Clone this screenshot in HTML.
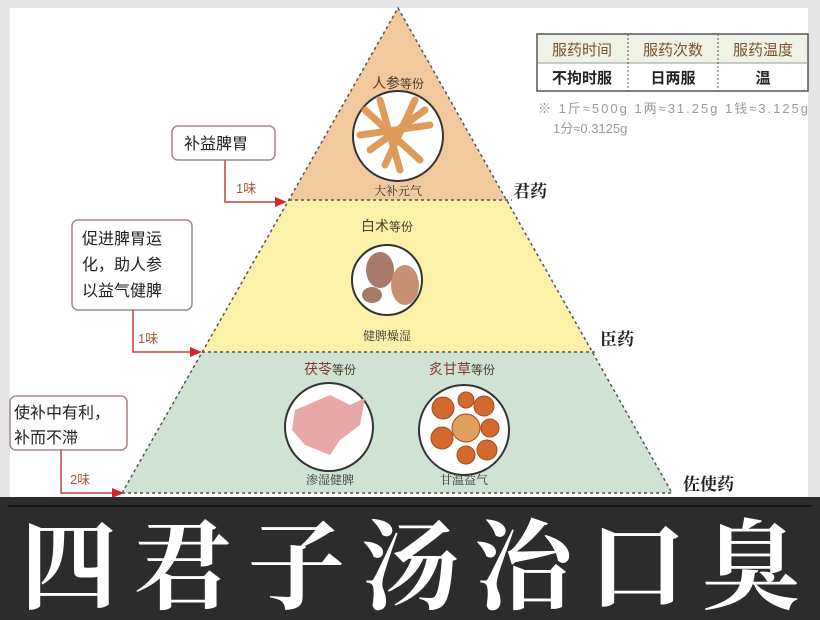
<!DOCTYPE html>
<html><head><meta charset="utf-8"><style>
html,body{margin:0;padding:0;width:820px;height:620px;overflow:hidden;background:#e6e6e6;font-family:"Liberation Sans","Noto Sans CJK SC",sans-serif}
</style></head><body>
<svg width="820" height="620" xmlns="http://www.w3.org/2000/svg" style="position:absolute;left:0;top:0">
<rect x="0" y="0" width="820" height="620" fill="#e6e6e6"/>
<rect x="10" y="8" width="798" height="490" fill="#fff"/>
<!-- tiers -->
<polygon points="398,8 506,200 289,200" fill="#f2c99d"/>
<polygon points="289,200 506,200 592,352 202,352" fill="#fbf1a9"/>
<polygon points="202,352 592,352 672,493 122,493" fill="#cfe2d3"/>
<g stroke="#555" stroke-width="1.5" stroke-dasharray="3,3" fill="none">
<polyline points="122,493 398,8 672,493 122,493"/>
<line x1="289" y1="200" x2="512" y2="200"/>
<line x1="202" y1="352" x2="596" y2="352"/>
</g>
<!-- circles -->
<g stroke="#333" stroke-width="2" fill="#fff">
<circle cx="398" cy="136" r="45"/>
<circle cx="387" cy="280" r="35"/>
<circle cx="329" cy="427" r="44"/>
<circle cx="464" cy="430" r="45"/>
</g>
<!-- ginseng -->
<g stroke="#d98b40" stroke-width="7" stroke-linecap="round" opacity="0.85">
<line x1="365" y1="110" x2="420" y2="160"/><line x1="380" y1="100" x2="400" y2="170"/>
<line x1="415" y1="100" x2="385" y2="165"/><line x1="360" y1="135" x2="430" y2="125"/>
<line x1="370" y1="150" x2="425" y2="110"/>
</g>
<!-- baizhu -->
<g fill="#a87a6a"><ellipse cx="380" cy="270" rx="14" ry="18"/><ellipse cx="405" cy="285" rx="14" ry="20" fill="#c89070"/><ellipse cx="372" cy="295" rx="10" ry="8"/></g>
<!-- fuling -->
<path d="M295,410 L330,395 L350,405 L365,398 L360,425 L340,440 L330,455 L305,445 L292,430Z" fill="#e8a8a8"/>
<!-- gancao slices -->
<g fill="#d4692f" stroke="#a34a1e" stroke-width="1">
<circle cx="443" cy="408" r="11"/><circle cx="466" cy="400" r="8"/><circle cx="484" cy="406" r="10"/>
<circle cx="466" cy="428" r="14" fill="#e0a060"/><circle cx="490" cy="428" r="9"/>
<circle cx="442" cy="438" r="11"/><circle cx="466" cy="455" r="9"/><circle cx="487" cy="450" r="10"/>
</g>
<!-- tier labels -->
<g font-family="'Liberation Serif','Noto Serif CJK SC',serif" font-weight="bold" font-size="17" fill="#222">
<text x="513" y="197">君药</text><text x="600" y="345">臣药</text><text x="683" y="490">佐使药</text>
</g>
<g font-size="14" fill="#4a3a2a" text-anchor="middle">
<text x="398" y="88">人参<tspan font-size="12">等份</tspan></text>
<text x="387" y="231">白术<tspan font-size="12">等份</tspan></text>
<text x="330" y="374"><tspan fill="#8a3a2a">茯苓</tspan><tspan font-size="12">等份</tspan></text>
<text x="462" y="374"><tspan fill="#8a3a2a">炙甘草</tspan><tspan font-size="12">等份</tspan></text>
</g>
<g font-size="12" fill="#333" text-anchor="middle" font-family="'Noto Serif CJK SC',serif">
<text x="398" y="195">大补元气</text><text x="387" y="340">健脾燥湿</text>
<text x="330" y="484">渗湿健脾</text><text x="464" y="484">甘温益气</text>
</g>
<!-- left boxes -->
<g fill="#fff" stroke="#a08a80" stroke-width="1.5">
<rect x="172" y="126" width="103" height="34" rx="6"/>
<rect x="72" y="220" width="120" height="90" rx="6"/>
<rect x="10" y="396" width="117" height="54" rx="6"/>
</g>
<g font-size="16" fill="#222">
<text x="184" y="149">补益脾胃</text>
<text x="82" y="244">促进脾胃运</text><text x="82" y="270">化，助人参</text><text x="82" y="296">以益气健脾</text>
<text x="14" y="418">使补中有利，</text><text x="14" y="443">补而不滞</text>
</g>
<g stroke="#c0443c" stroke-width="1.5" fill="none">
<polyline points="225,160 225,202 278,202"/>
<polyline points="133,310 133,352 193,352"/>
<polyline points="61,450 61,493 115,493"/>
</g>
<g fill="#d02828">
<polygon points="287,202 275,197 275,207"/><polygon points="202,352 190,347 190,357"/><polygon points="124,493 112,488 112,498"/>
</g>
<g font-size="13" fill="#a0553f"><text x="236" y="193">1味</text><text x="138" y="343">1味</text><text x="70" y="484">2味</text></g>
<!-- table -->
<rect x="537" y="34" width="271" height="57" fill="#fff" stroke="#555" stroke-width="1.5"/>
<rect x="538" y="35" width="269" height="28" fill="#eef3e6"/>
<line x1="537" y1="63" x2="808" y2="63" stroke="#999" stroke-width="1"/>
<g stroke="#555" stroke-dasharray="2,2"><line x1="628" y1="34" x2="628" y2="91"/><line x1="718" y1="34" x2="718" y2="91"/></g>
<g font-size="15" fill="#7a5030" text-anchor="middle"><text x="582" y="55">服药时间</text><text x="673" y="55">服药次数</text><text x="763" y="55">服药温度</text></g>
<g font-size="15" fill="#222" text-anchor="middle" font-weight="bold"><text x="582" y="83">不拘时服</text><text x="673" y="83">日两服</text><text x="763" y="83">温</text></g>
<g font-size="13" fill="#999"><text x="538" y="113" textLength="270" lengthAdjust="spacing">※ 1斤≈500g  1两≈31.25g  1钱≈3.125g</text><text x="553" y="133">1分≈0.3125g</text></g>
<!-- bottom band -->
<rect x="0" y="497" width="820" height="123" fill="#2c2c2c"/>
<line x1="8" y1="506" x2="812" y2="506" stroke="#0e0e0e" stroke-width="1.5"/>
<text x="410" y="601" text-anchor="middle" font-size="98" font-weight="bold" fill="#fff" font-family="'Noto Serif CJK SC','WenQuanYi Zen Hei',serif" textLength="780" lengthAdjust="spacing">四君子汤治口臭</text>
</svg>
</body></html>
